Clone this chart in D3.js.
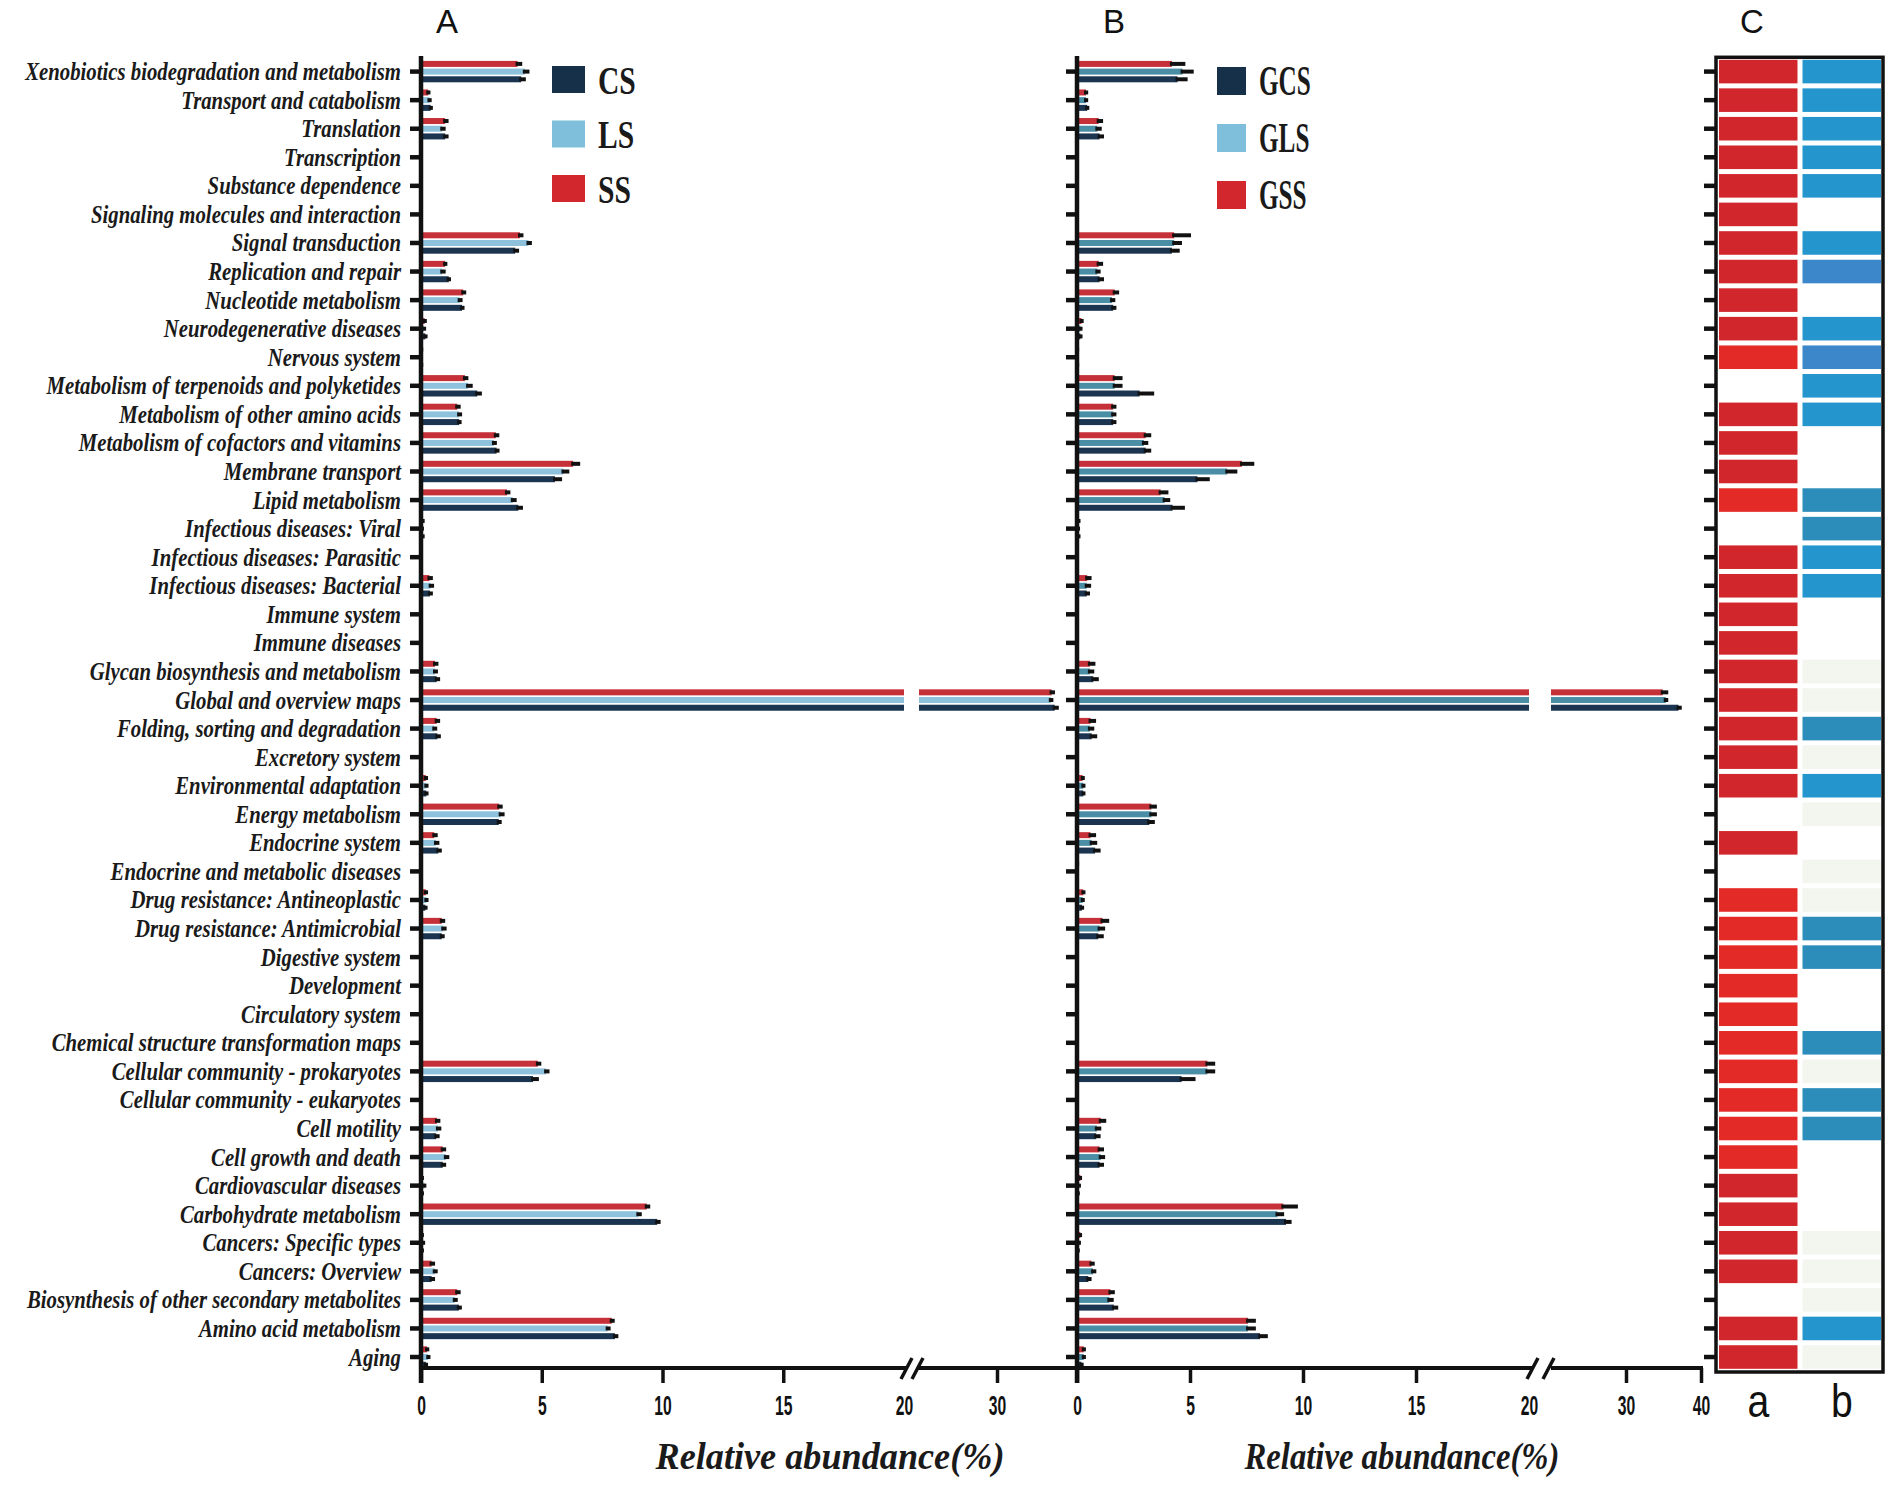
<!DOCTYPE html>
<html>
<head>
<meta charset="utf-8">
<script src="https://cdn.jsdelivr.net/npm/d3@7"></script>
<style>
html, body { margin: 0; padding: 0; background: #fff; }
svg { display: block; }
</style>
</head>
<body>
<script>
const categories = [
  'Xenobiotics biodegradation and metabolism', 'Transport and catabolism', 'Translation',
  'Transcription', 'Substance dependence', 'Signaling molecules and interaction',
  'Signal transduction', 'Replication and repair', 'Nucleotide metabolism',
  'Neurodegenerative diseases', 'Nervous system', 'Metabolism of terpenoids and polyketides',
  'Metabolism of other amino acids', 'Metabolism of cofactors and vitamins', 'Membrane transport',
  'Lipid metabolism', 'Infectious diseases: Viral', 'Infectious diseases: Parasitic',
  'Infectious diseases: Bacterial', 'Immune system', 'Immune diseases',
  'Glycan biosynthesis and metabolism', 'Global and overview maps', 'Folding, sorting and degradation',
  'Excretory system', 'Environmental adaptation', 'Energy metabolism', 'Endocrine system',
  'Endocrine and metabolic diseases', 'Drug resistance: Antineoplastic', 'Drug resistance: Antimicrobial',
  'Digestive system', 'Development', 'Circulatory system', 'Chemical structure transformation maps',
  'Cellular community - prokaryotes', 'Cellular community - eukaryotes', 'Cell motility',
  'Cell growth and death', 'Cardiovascular diseases', 'Carbohydrate metabolism',
  'Cancers: Specific types', 'Cancers: Overview', 'Biosynthesis of other secondary metabolites',
  'Amino acid metabolism', 'Aging'
];

const groupsA = ['CS', 'LS', 'SS'];
const groupsB = ['GCS', 'GLS', 'GSS'];

// panel A, relative abundance (%)
const ssA = [4.0,0.3,1.0,0.02,0.02,0.01,4.1,1.0,1.75,0.15,0.05,1.82,1.5,3.1,6.3,3.56,0.08,0.02,0.35,0.04,0.01,0.58,37.0,0.65,0.01,0.2,3.24,0.55,0.02,0.2,0.86,0.02,0.01,0.01,0.01,4.84,0.01,0.66,0.9,0.05,9.35,0.05,0.44,1.5,7.9,0.25];
const lsA = [4.3,0.35,0.88,0.02,0.01,0.01,4.45,0.88,1.6,0.12,0.04,1.95,1.58,3.02,5.9,3.8,0.05,0.02,0.4,0.03,0.01,0.58,36.9,0.55,0.01,0.22,3.3,0.62,0.02,0.22,0.92,0.02,0.01,0.01,0.01,5.18,0.01,0.7,1.03,0.15,9.0,0.1,0.57,1.4,7.73,0.3];
const csA = [4.15,0.4,1.0,0.02,0.02,0.01,3.9,1.15,1.7,0.18,0.05,2.33,1.58,3.13,5.55,4.03,0.08,0.02,0.37,0.04,0.01,0.65,37.4,0.68,0.01,0.22,3.22,0.72,0.02,0.18,0.86,0.02,0.01,0.01,0.01,4.64,0.01,0.63,0.9,0.05,9.78,0.05,0.44,1.57,8.03,0.2];
const ssAErr = [0.15,0.05,0.1,0,0,0,0.1,0.05,0.08,0.05,0,0.1,0.1,0.1,0.25,0.1,0.03,0,0.1,0,0,0.1,0.3,0.1,0,0.05,0.1,0.1,0,0.05,0.1,0,0,0,0,0.1,0,0.1,0.1,0.03,0.1,0.03,0.1,0.1,0.08,0.05];
const lsAErr = [0.15,0.05,0.1,0,0,0,0.1,0.1,0.08,0.05,0,0.15,0.08,0.08,0.2,0.12,0.03,0,0.1,0,0,0.08,0.2,0.08,0,0.05,0.12,0.1,0,0.05,0.1,0,0,0,0,0.1,0,0.1,0.1,0.03,0.1,0.03,0.08,0.08,0.08,0.05];
const csAErr = [0.15,0.05,0.1,0,0,0,0.12,0.05,0.06,0.05,0,0.15,0.06,0.08,0.25,0.15,0.03,0,0.08,0,0,0.1,0.4,0.1,0,0.05,0.08,0.1,0,0.05,0.08,0,0,0,0,0.2,0,0.1,0.1,0.03,0.1,0.03,0.1,0.08,0.1,0.05];

// panel B
const ssB = [4.2,0.4,0.96,0.02,0.02,0.01,4.3,0.96,1.67,0.2,0.05,1.67,1.6,3.04,7.3,3.7,0.08,0.02,0.45,0.03,0.01,0.57,34.9,0.6,0.01,0.25,3.29,0.6,0.05,0.28,1.13,0.02,0.01,0.01,0.02,5.77,0.01,1.05,1.0,0.15,9.13,0.15,0.64,1.48,7.57,0.3];
const lsB = [4.67,0.4,0.9,0.02,0.01,0.01,4.3,0.9,1.55,0.15,0.04,1.67,1.6,2.96,6.65,3.88,0.06,0.02,0.43,0.03,0.01,0.57,35.3,0.57,0.01,0.28,3.29,0.65,0.03,0.25,1.0,0.02,0.01,0.01,0.01,5.77,0.01,0.88,1.05,0.1,8.87,0.1,0.71,1.43,7.57,0.3];
const csB = [4.45,0.45,1.0,0.02,0.02,0.01,4.2,1.0,1.6,0.15,0.05,2.77,1.6,3.04,5.33,4.23,0.08,0.02,0.43,0.03,0.01,0.72,37.0,0.65,0.01,0.28,3.2,0.8,0.03,0.22,0.94,0.02,0.01,0.01,0.01,4.63,0.01,0.85,1.0,0.05,9.25,0.05,0.5,1.63,8.1,0.2];
const ssBErr = [0.55,0.05,0.15,0,0,0,0.7,0.15,0.15,0.05,0,0.3,0.1,0.2,0.5,0.3,0.03,0,0.15,0,0,0.2,0.6,0.2,0,0.05,0.2,0.2,0,0.05,0.25,0,0,0,0,0.3,0,0.2,0.15,0.03,0.6,0.03,0.1,0.15,0.3,0.05];
const lsBErr = [0.45,0.05,0.15,0,0,0,0.3,0.1,0.1,0.05,0,0.3,0.1,0.15,0.4,0.2,0.03,0,0.15,0,0,0.15,0.2,0.15,0,0.05,0.2,0.2,0,0.05,0.2,0,0,0,0,0.3,0,0.15,0.15,0.03,0.25,0.03,0.1,0.15,0.3,0.05];
const csBErr = [0.4,0.05,0.15,0,0,0,0.3,0.15,0.1,0.05,0,0.6,0.1,0.2,0.5,0.5,0.03,0,0.1,0,0,0.2,0.3,0.2,0,0.05,0.2,0.2,0,0.05,0.2,0,0,0,0,0.57,0,0.15,0.15,0.03,0.2,0.03,0.1,0.15,0.3,0.05];

// panel C: 0 = empty, other codes = shade
const cellA = [1,1,1,1,1,1,1,1,1,1,2,0,1,1,1,2,0,1,1,1,1,1,1,1,1,1,0,1,0,2,2,2,2,2,2,2,2,2,2,1,1,1,1,0,1,1];
const cellB = [1,1,1,1,1,0,1,2,0,1,2,1,1,0,0,3,3,1,1,0,0,4,4,3,4,1,4,0,4,4,3,3,0,0,3,4,3,3,0,0,0,4,4,4,1,4];
const cellCols = ['a', 'b'];

const tickLow = [0, 5, 10, 15, 20];
const tickHighA = [30];
const tickHighB = [30, 40];

const W = 1902, H = 1492;
const BASE = 1368;
const navy = '#1b3550', lightBlue = '#8ec2dc', teal = '#4a8ea6', red = '#c53039';

const svg = d3.select('body').append('svg').attr('width', W).attr('height', H);
svg.append('rect').attr('width', W).attr('height', H).attr('fill', '#fff');

const y = d3.scaleBand().domain(categories).range([57.3, 1371.3]);
const sub = d3.scaleBand().domain(['SS', 'LS', 'CS']).range([3.6, 25.0]).paddingInner(0.22);

const xLowA = d3.scaleLinear().domain([0, 20]).range([421, 904]);
const xHighA = d3.scaleLinear().domain([20, 40]).range([919, 1075]);
const xLowB = d3.scaleLinear().domain([0, 20]).range([1077, 1529]);
const xHighB = d3.scaleLinear().domain([20, 40]).range([1551, 1701]);

function drawPanel (o) {
  const g = svg.append('g');
  const pos = v => v <= 20 ? o.xLow(v) : o.xHigh(v);
  const rows = categories.flatMap((c, i) => o.series.map(s => ({
    c, key: s.key, v: s.values[i], e: s.errs[i], color: s.color
  })));

  g.selectAll('rect.lo').data(rows).join('rect').attr('class', 'lo')
    .attr('x', o.xLow(0))
    .attr('y', d => y(d.c) + sub(d.key))
    .attr('width', d => o.xLow(Math.min(d.v, 20)) - o.xLow(0))
    .attr('height', sub.bandwidth())
    .attr('fill', d => d.color);

  g.selectAll('rect.hi').data(rows.filter(d => d.v > 20)).join('rect').attr('class', 'hi')
    .attr('x', o.xHigh(20))
    .attr('y', d => y(d.c) + sub(d.key))
    .attr('width', d => o.xHigh(d.v) - o.xHigh(20))
    .attr('height', sub.bandwidth())
    .attr('fill', d => d.color);

  g.selectAll('rect.err').data(rows).join('rect').attr('class', 'err')
    .attr('x', d => pos(d.v) - 2)
    .attr('y', d => y(d.c) + sub(d.key) + sub.bandwidth() / 2 - 2)
    .attr('width', d => pos(d.v + d.e) - pos(d.v) + 3)
    .attr('height', 4)
    .attr('fill', '#111');

  // y axis
  g.append('g')
    .attr('transform', `translate(${o.xLow(0)},0)`)
    .call(d3.axisLeft(y).tickSize(11).tickFormat(''))
    .call(a => a.select('.domain').remove())
    .call(a => a.selectAll('line').attr('stroke', '#111').attr('stroke-width', 4.5));
  g.append('line')
    .attr('x1', o.xLow(0)).attr('x2', o.xLow(0))
    .attr('y1', 56).attr('y2', BASE + 15)
    .attr('stroke', '#111').attr('stroke-width', 4.5);

  // x ticks
  const styleAxis = a => {
    a.select('.domain').remove();
    a.selectAll('line').attr('stroke', '#111').attr('stroke-width', 3.5);
    a.selectAll('text')
      .attr('font-family', 'Liberation Sans, Arial, sans-serif')
      .attr('font-weight', 'bold')
      .attr('font-size', 27)
      .attr('fill', '#111')
      .attr('transform', 'scale(0.58,1)');
  };
  g.append('g').attr('transform', `translate(0,${BASE})`)
    .call(d3.axisBottom(o.xLow).tickValues(tickLow).tickSize(15).tickPadding(13))
    .call(styleAxis)
    .call(a => a.selectAll('.tick').filter(d => d === 20).select('line').remove());
  g.append('g').attr('transform', `translate(0,${BASE})`)
    .call(d3.axisBottom(o.xHigh).tickValues(o.highTicks).tickSize(15).tickPadding(13))
    .call(styleAxis);

  // legend
  const lg = g.append('g');
  o.legend.forEach((name, i) => {
    const cy = o.legY + i * o.legStep;
    lg.append('rect')
      .attr('x', o.legX).attr('y', cy - o.legH / 2)
      .attr('width', o.legW).attr('height', o.legH)
      .attr('fill', o.legColors[i]);
    lg.append('text')
      .attr('transform', `translate(${o.legX + o.legW + 13},${cy + 14}) scale(${o.legSx},1)`)
      .attr('font-family', 'Liberation Serif, Times New Roman, serif')
      .attr('font-weight', 'bold')
      .attr('font-size', o.legFont)
      .attr('fill', '#1a1a1a')
      .text(name);
  });

  // panel title
  g.append('text')
    .attr('x', o.titleX).attr('y', 33)
    .attr('text-anchor', 'middle')
    .attr('font-family', 'Liberation Sans, Arial, sans-serif')
    .attr('font-size', 33)
    .attr('fill', '#111')
    .text(o.title);

  // x title
  const xt = g.append('text')
    .attr('font-family', 'Liberation Serif, Times New Roman, serif')
    .attr('font-weight', 'bold')
    .attr('font-style', 'italic')
    .attr('font-size', 37)
    .attr('text-anchor', 'middle')
    .attr('fill', '#1a1a1a')
    .text('Relative abundance(%)');
  const len = xt.node().getComputedTextLength();
  xt.attr('transform', `translate(${o.xTitleX},1469) scale(${o.xTitleW / len},1)`);
}

drawPanel({
  xLow: xLowA, xHigh: xHighA, highTicks: tickHighA,
  series: [
    { key: 'SS', values: ssA, errs: ssAErr, color: red },
    { key: 'LS', values: lsA, errs: lsAErr, color: lightBlue },
    { key: 'CS', values: csA, errs: csAErr, color: navy }
  ],
  legend: groupsA, legColors: ['#163049', '#80bfdb', '#d2272d'],
  legX: 552, legY: 79.5, legStep: 54.5, legW: 33, legH: 27, legFont: 40, legSx: 0.74,
  title: 'A', titleX: 447, xTitleX: 830, xTitleW: 349
});

drawPanel({
  xLow: xLowB, xHigh: xHighB, highTicks: tickHighB,
  series: [
    { key: 'SS', values: ssB, errs: ssBErr, color: red },
    { key: 'LS', values: lsB, errs: lsBErr, color: teal },
    { key: 'CS', values: csB, errs: csBErr, color: navy }
  ],
  legend: groupsB, legColors: ['#163049', '#80bfdb', '#d2272d'],
  legX: 1217, legY: 81, legStep: 57, legW: 29, legH: 28, legFont: 42, legSx: 0.6,
  title: 'B', titleX: 1114, xTitleX: 1402, xTitleW: 315
});

// baseline with breaks
const baseSegs = [[419, 907], [918, 1532], [1551, 1703]];
svg.append('g').selectAll('line').data(baseSegs).join('line')
  .attr('x1', d => d[0]).attr('x2', d => d[1])
  .attr('y1', BASE).attr('y2', BASE)
  .attr('stroke', '#111').attr('stroke-width', 4);
const slashes = [901, 912, 1527, 1543];
svg.append('g').selectAll('line').data(slashes).join('line')
  .attr('x1', d => d).attr('x2', d => d + 11)
  .attr('y1', BASE + 11).attr('y2', BASE - 10)
  .attr('stroke', '#111').attr('stroke-width', 3.5);

// category labels
const labels = svg.append('g').selectAll('text').data(categories).join('text')
  .attr('font-family', 'Liberation Serif, Times New Roman, serif')
  .attr('font-weight', 'bold')
  .attr('font-style', 'italic')
  .attr('font-size', 26)
  .attr('text-anchor', 'end')
  .attr('fill', '#1a1a1a')
  .text(d => d);
const maxLen = d3.max(labels.nodes(), n => n.getComputedTextLength());
const lsx = 376 / maxLen;
labels.attr('transform', d => `translate(401,${y(d) + y.bandwidth() / 2 + 8.5}) scale(${lsx},1)`);

// panel C
const cx = d3.scaleBand().domain(cellCols).range([1719, 1881]).paddingInner(0.06);
const colA = d3.scaleOrdinal().domain([1, 2]).range(['#d1262b', '#e42a27']);
const colB = d3.scaleOrdinal().domain([1, 2, 3, 4]).range(['#2596cd', '#3b87c9', '#2c8dbb', '#f3f5ef']);
const cg = svg.append('g');
cg.append('rect')
  .attr('x', 1716).attr('y', 57.3)
  .attr('width', 1883 - 1716).attr('height', 1372 - 57.3)
  .attr('fill', '#fff').attr('stroke', '#111').attr('stroke-width', 3.5);
const cells = categories.flatMap((c, i) => [
  { c, col: 'a', code: cellA[i], fill: colA(cellA[i]) },
  { c, col: 'b', code: cellB[i], fill: colB(cellB[i]) }
]).filter(d => d.code > 0);
cg.selectAll('rect.cell').data(cells).join('rect').attr('class', 'cell')
  .attr('x', d => cx(d.col))
  .attr('y', d => y(d.c) + 2.5)
  .attr('width', cx.bandwidth())
  .attr('height', y.bandwidth() - 5)
  .attr('fill', d => d.fill);
cg.append('g')
  .attr('transform', 'translate(1716,0)')
  .call(d3.axisLeft(y).tickSize(12).tickFormat(''))
  .call(a => a.select('.domain').remove())
  .call(a => a.selectAll('line').attr('stroke', '#111').attr('stroke-width', 4.5));
cg.selectAll('text.col').data(cellCols).join('text').attr('class', 'col')
  .attr('transform', d => `translate(${cx(d) + cx.bandwidth() / 2},1417) scale(0.85,1)`)
  .attr('text-anchor', 'middle')
  .attr('font-family', 'Liberation Sans, Arial, sans-serif')
  .attr('font-size', 46)
  .attr('fill', '#111')
  .text(d => d);
cg.append('text')
  .attr('x', 1752).attr('y', 33)
  .attr('text-anchor', 'middle')
  .attr('font-family', 'Liberation Sans, Arial, sans-serif')
  .attr('font-size', 33)
  .attr('fill', '#111')
  .text('C');
</script>
</body>
</html>
